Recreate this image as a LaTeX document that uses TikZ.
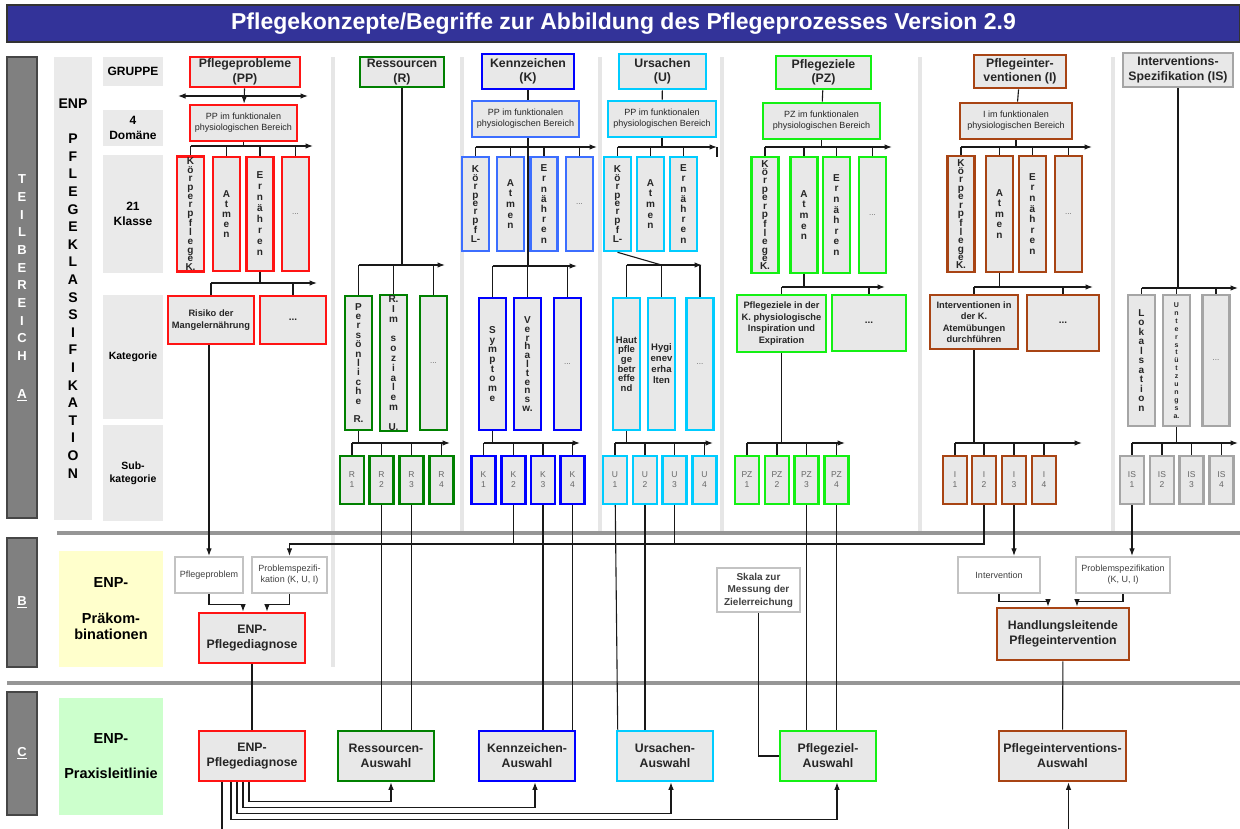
\documentclass[tikz,border=0pt]{standalone}
\usepackage{fontspec}
\setmainfont{Liberation Sans}
\usetikzlibrary{arrows.meta}
\definecolor{boxfill}{RGB}{232,232,232}
\definecolor{ppred}{RGB}{255,20,20}
\definecolor{rgreen}{RGB}{0,128,0}
\definecolor{kblue}{RGB}{0,0,255}
\definecolor{kbluelt}{RGB}{60,110,255}
\definecolor{ucyan}{RGB}{0,204,255}
\definecolor{zgreen}{RGB}{20,240,20}
\definecolor{ibrown}{RGB}{168,68,20}
\definecolor{isgray}{RGB}{165,165,165}
\definecolor{prebox}{RGB}{195,195,195}
\definecolor{lblfill}{RGB}{234,234,234}
\definecolor{secfill}{RGB}{128,128,128}
\definecolor{secline}{RGB}{70,70,70}
\definecolor{sepgray}{RGB}{150,150,150}
\definecolor{colgray}{RGB}{230,230,230}
\definecolor{titleblue}{RGB}{51,51,153}
\definecolor{yellowbg}{RGB}{255,255,204}
\definecolor{greenbg}{RGB}{204,255,204}
% letters stacked one per line
\def\vstx#1{\ifx\relax#1\relax\else\ifx\vsttmp\empty\def\vsttmp{#1}\else\expandafter\def\expandafter\vsttmp\expandafter{\vsttmp\\#1}\fi\expandafter\vstx\fi}
\newcommand\vst[1]{\def\vsttmp{}\vstx#1\relax\vsttmp}

\begin{document}
\begin{tikzpicture}[x=1pt,y=-1pt,>={Latex[length=7.5pt,width=5.5pt]},
  box/.style={draw,line width=2.6pt,fill=boxfill,inner sep=1pt,align=center,text=black!85},
  sz/.style 2 args={minimum width=#1,minimum height=#2},
  hdr/.style={box,font=\fontsize{12.3}{14.5}\bfseries},
  dom/.style={box,font=\fontsize{9}{11}\selectfont},
  vtxt/.style={box,font=\fontsize{10}{#1}\bfseries},
  vtxt/.default=10.6,
  dots/.style={box,font=\fontsize{8}{9}\selectfont,text=black!60},
  catdots/.style={box,font=\fontsize{10}{11}\bfseries},
  cat/.style={box,font=\fontsize{9.3}{11.5}\bfseries},
  sub/.style={box,line width=2.2pt,font=\fontsize{8.5}{10}\selectfont,text=black!60},
  pre/.style={draw=prebox,line width=2.2pt,fill=white,align=center,inner sep=1pt,font=\fontsize{9}{11}\selectfont,text=black!75},
  big/.style={box,font=\fontsize{12.3}{15}\bfseries},
  rowlbl/.style={fill=lblfill,inner sep=1pt,align=center,font=\fontsize{12}{14.5}\bfseries},
  secbar/.style={draw=secline,line width=1.5pt,fill=secfill,text=white,align=center,font=\fontsize{13}{17.7}\bfseries},
  sepline/.style={line width=4.5pt,color=sepgray},
  colsep/.style={line width=4.5pt,color=colgray},
  conn/.style={line width=1.1pt,color=black!90}]
  \useasboundingbox (0,0) rectangle (1240,829);
  % background
  \draw[colsep] (333,57) -- (333,667);
  \foreach \x in {462,600,722,920,1113} \draw[colsep] (\x,57) -- (\x,533);
  \draw[sepline] (57,533) -- (1240,533);
  \draw[sepline] (7,683) -- (1240,683);
  \node[fill=titleblue,draw=black!80,line width=1.5pt,text=white,font=\fontsize{23}{26}\bfseries,sz={1233}{37}] (title) at (623.5,23.5) {Pflegekonzepte/Begriffe zur Abbildung des Pflegeprozesses Version 2.9};

  % left labels
  \node[secbar,sz={30}{461}] (secA) at (22,287.5) {T\\E\\I\\L\\B\\E\\R\\E\\I\\C\\H\\[20pt]\underline{A}};
  \node[secbar,sz={30}{129}] (secB) at (22,602.5) {\underline{B}};
  \node[secbar,sz={30}{123}] (secC) at (22,753.5) {\underline{C}};
  \node[rowlbl,font=\fontsize{14}{17.6}\bfseries,sz={38}{463}] (enp) at (73,288.5) {\vst{{ENP}~PFLEGEKLASSIFIKATION}};
  \node[rowlbl,sz={60}{29}] (lblG) at (133,71.5) {GRUPPE};
  \node[rowlbl,sz={60}{36}] (lblD) at (133,128) {4\\Domäne};
  \node[rowlbl,sz={60}{118}] (lblK) at (133,214) {21\\Klasse};
  \node[rowlbl,font=\fontsize{10.5}{13}\bfseries,sz={60}{124}] (lblKat) at (133,357) {Kategorie};
  \node[rowlbl,font=\fontsize{10.5}{13}\bfseries,sz={60}{96}] (lblSub) at (133,473) {Sub-\\kategorie};
  \node[fill=yellowbg,align=center,font=\fontsize{14.5}{16}\bfseries,sz={104}{116}] (panB) at (111,609) {ENP-\\[20pt]Präkom-\\binationen};
  \node[fill=greenbg,align=center,font=\fontsize{14.5}{16}\bfseries,sz={104}{117}] (panC) at (111,756.5) {ENP-\\[19pt]Praxisleitlinie};

  % Pflegeprobleme
  \node[hdr,draw=ppred,sz={110}{30}] (ppH) at (245,72) {Pflegeprobleme\\(PP)};
  \node[dom,draw=ppred,sz={107}{36}] (ppD) at (243.5,123) {PP im funktionalen\\physiologischen Bereich};
  \coordinate (ppL) at (178,96);
  \coordinate (ppR) at (308,96);
  \coordinate (ppcb) at (313,146);
  \node[vtxt=8.7,draw=ppred,sz={27}{114}] (ppK) at (190.5,214) {\vst{Körperpflege{K.}}};
  \node[vtxt=10,draw=ppred,sz={27}{114}] (ppA) at (226.5,214) {\vst{Atmen}};
  \node[vtxt=11,draw=ppred,sz={27}{114}] (ppE) at (260,214) {\vst{Ernähren}};
  \node[dots,draw=ppred,sz={27}{114}] (ppX) at (295.5,214) {...};
  \coordinate (ppkb) at (317,283);
  \node[cat,draw=ppred,sz={86}{48}] (ppRi) at (211,320) {Risiko der\\Mangelernährung};
  \node[catdots,draw=ppred,sz={66}{48}] (ppCX) at (293,320) {...};

  % Ressourcen
  \node[hdr,draw=rgreen,sz={84}{30}] (rH) at (402,72) {Ressourcen\\(R)};
  \coordinate (rcb) at (445,265);
  \node[vtxt=9.4,draw=rgreen,sz={27}{134}] (rP) at (358.5,363) {\vst{Persönliche~{R.}}};
  \node[vtxt=9.8,draw=rgreen,sz={27}{134}] (rS) at (393.5,363) {\vst{{R.}Im~sozialem~{U.}}};
  \node[dots,draw=rgreen,sz={27}{134}] (rX) at (433.5,363) {...};
  \coordinate (rsb) at (450,443);
  \node[sub,draw=rgreen,sz={24}{48}] (r1) at (352,480) {R\\1};
  \node[sub,draw=rgreen,sz={24}{48}] (r2) at (381.5,480) {R\\2};
  \node[sub,draw=rgreen,sz={24}{48}] (r3) at (411.5,480) {R\\3};
  \node[sub,draw=rgreen,sz={24}{48}] (r4) at (441.5,480) {R\\4};

  % Kennzeichen
  \node[hdr,draw=kblue,sz={92}{35}] (kH) at (528,71.5) {Kennzeichen\\(K)};
  \node[dom,draw=kbluelt,sz={107}{36}] (kD) at (525.5,119) {PP im funktionalen\\physiologischen Bereich};
  \coordinate (kbb) at (597,147);
  \node[vtxt=8.4,draw=kbluelt,sz={27}{94}] (kK) at (475.5,204) {\vst{Körperpf{L-}}};
  \node[vtxt=10.7,draw=kbluelt,sz={27}{94}] (kA) at (510.5,204) {\vst{Atmen}};
  \node[vtxt=10.2,draw=kbluelt,sz={27}{94}] (kE) at (544,204) {\vst{Ernähren}};
  \node[dots,draw=kbluelt,sz={27}{94}] (kX) at (579.5,204) {...};
  \coordinate (kcb) at (577,266);
  \node[vtxt=9.7,draw=kblue,sz={27}{132}] (kSy) at (492.5,364) {\vst{Symptome}};
  \node[vtxt=8.8,draw=kblue,sz={27}{132}] (kVe) at (527.5,364) {\vst{Verhaltens{w.}}};
  \node[dots,draw=kblue,sz={27}{132}] (kX2) at (567.5,364) {...};
  \coordinate (ksb) at (580,443);
  \node[sub,draw=kblue,sz={24}{48}] (k1) at (483.5,480) {K\\1};
  \node[sub,draw=kblue,sz={24}{48}] (k2) at (513.5,480) {K\\2};
  \node[sub,draw=kblue,sz={24}{48}] (k3) at (543,480) {K\\3};
  \node[sub,draw=kblue,sz={24}{48}] (k4) at (572.5,480) {K\\4};

  % Ursachen
  \node[hdr,draw=ucyan,sz={87}{35}] (uH) at (662.5,71.5) {Ursachen\\(U)};
  \node[dom,draw=ucyan,sz={108}{36}] (uD) at (662,119) {PP im funktionalen\\physiologischen Bereich};
  \coordinate (ubb) at (717,147);
  \node[vtxt=8.4,draw=ucyan,sz={27}{94}] (uK) at (617.5,204) {\vst{Körperpf{L-}}};
  \node[vtxt=10.7,draw=ucyan,sz={27}{94}] (uA) at (650.5,204) {\vst{Atmen}};
  \node[vtxt=10.2,draw=ucyan,sz={27}{94}] (uE) at (683.5,204) {\vst{Ernähren}};
  \coordinate (ucb) at (702,265);
  \node[vtxt=9.6,draw=ucyan,sz={27}{132},font=\fontsize{9.5}{9.6}\bfseries] (uHa) at (626.5,364) {Haut\\pfle\\ge\\betr\\effe\\nd};
  \node[vtxt=11,draw=ucyan,sz={27}{132},font=\fontsize{9.5}{11}\bfseries] (uHy) at (661.5,364) {Hygi\\enev\\erha\\lten};
  \node[dots,draw=ucyan,sz={27}{132}] (uX) at (700,364) {...};
  \coordinate (usb) at (713,443);
  \node[sub,draw=ucyan,sz={24}{48}] (u1) at (615,480) {U\\1};
  \node[sub,draw=ucyan,sz={24}{48}] (u2) at (645,480) {U\\2};
  \node[sub,draw=ucyan,sz={24}{48}] (u3) at (674.5,480) {U\\3};
  \node[sub,draw=ucyan,sz={24}{48}] (u4) at (704.5,480) {U\\4};

  % Pflegeziele
  \node[hdr,draw=zgreen,sz={95}{33}] (zH) at (823.5,72.5) {Pflegeziele\\(PZ)};
  \node[dom,draw=zgreen,sz={117}{36}] (zD) at (821.5,121) {PZ im funktionalen\\physiologischen Bereich};
  \coordinate (zbb) at (892,147);
  \node[vtxt=8.4,draw=zgreen,sz={27}{116}] (zK) at (765,215) {\vst{Körperpflege{K.}}};
  \node[vtxt=10.6,draw=zgreen,sz={27}{116}] (zA) at (804,215) {\vst{Atmen}};
  \node[vtxt=10.6,draw=zgreen,sz={27}{116}] (zE) at (836.5,215) {\vst{Ernähren}};
  \node[dots,draw=zgreen,sz={27}{116}] (zX) at (872.5,215) {...};
  \coordinate (zcb) at (885,287);
  \node[cat,draw=zgreen,sz={89}{57}] (zPf) at (781.5,323.5) {Pflegeziele in der\\K. physiologische\\Inspiration und\\Expiration};
  \node[catdots,draw=zgreen,sz={74}{56}] (zX2) at (869,323) {...};
  \coordinate (zsb) at (845,443);
  \node[sub,draw=zgreen,sz={24}{48}] (z1) at (747,480) {PZ\\1};
  \node[sub,draw=zgreen,sz={24}{48}] (z2) at (777,480) {PZ\\2};
  \node[sub,draw=zgreen,sz={24}{48}] (z3) at (806.5,480) {PZ\\3};
  \node[sub,draw=zgreen,sz={24}{48}] (z4) at (836.5,480) {PZ\\4};

  % Pflegeinterventionen
  \node[hdr,draw=ibrown,sz={92}{33}] (iH) at (1020,71.5) {Pflegeinter-\\ventionen (I)};
  \node[dom,draw=ibrown,sz={112}{36}] (iD) at (1016,121) {I im funktionalen\\physiologischen Bereich};
  \coordinate (ibb) at (1092,147);
  \node[vtxt=8.4,draw=ibrown,sz={27}{116}] (iK) at (961,214) {\vst{Körperpflege{K.}}};
  \node[vtxt=10.5,draw=ibrown,sz={27}{116}] (iA) at (999.5,214) {\vst{Atmen}};
  \node[vtxt=10.6,draw=ibrown,sz={27}{116}] (iE) at (1032.5,214) {\vst{Ernähren}};
  \node[dots,draw=ibrown,sz={27}{116}] (iX) at (1068.5,214) {...};
  \coordinate (icb) at (1093,287);
  \node[cat,draw=ibrown,sz={88}{54}] (iIn) at (974,322) {Interventionen in\\der K.\\Atemübungen\\durchführen};
  \node[catdots,draw=ibrown,sz={72}{56}] (iX2) at (1063,323) {...};
  \coordinate (isb) at (1082,443);
  \node[sub,draw=ibrown,sz={24}{48}] (i1) at (955,480) {I\\1};
  \node[sub,draw=ibrown,sz={24}{48}] (i2) at (984,480) {I\\2};
  \node[sub,draw=ibrown,sz={24}{48}] (i3) at (1014,480) {I\\3};
  \node[sub,draw=ibrown,sz={24}{48}] (i4) at (1044,480) {I\\4};

  % Interventions-Spezifikation
  \node[hdr,draw=isgray,sz={110}{34}] (sH) at (1178,70) {Interventions-\\Spezifikation (IS)};
  \coordinate (scb) at (1238,288);
  \node[vtxt=9.5,draw=isgray,sz={27}{131}] (sLo) at (1141.5,360.5) {\vst{Lokalsation}};
  \node[vtxt,draw=isgray,sz={27}{131},font=\fontsize{7}{7.9}\bfseries] (sUn) at (1176.5,360.5) {\vst{Unterstützungs{a.}}};
  \node[dots,draw=isgray,sz={27}{131}] (sX) at (1216,360.5) {...};
  \coordinate (ssb) at (1238,443);
  \node[sub,draw=isgray,sz={24}{48}] (s1) at (1132,480) {IS\\1};
  \node[sub,draw=isgray,sz={24}{48}] (s2) at (1162,480) {IS\\2};
  \node[sub,draw=isgray,sz={24}{48}] (s3) at (1191.5,480) {IS\\3};
  \node[sub,draw=isgray,sz={24}{48}] (s4) at (1221.5,480) {IS\\4};

  % B: Praekombinationen
  \coordinate (bb) at (0,544);
  \node[pre,sz={68}{36}] (bPP) at (209,575) {Pflegeproblem};
  \node[pre,sz={75}{36}] (bPS) at (289.5,575) {Problemspezifi-\\kation (K, U, I)};
  \node[big,draw=ppred,sz={106}{50}] (bDx) at (252,638) {ENP-\\Pflegediagnose};
  \node[pre,font=\fontsize{10}{12.5}\bfseries,sz={83}{44}] (bSk) at (758.5,590) {Skala zur\\Messung der\\Zielerreichung};
  \node[pre,sz={82}{36}] (bIn) at (999,575) {Intervention};
  \node[pre,sz={94}{36}] (bPS2) at (1123,575) {Problemspezifikation\\(K, U, I)};
  \node[big,draw=ibrown,sz={132}{52}] (bHl) at (1063,634) {Handlungsleitende\\Pflegeintervention};

  % C: Praxisleitlinie
  \node[big,draw=ppred,sz={106}{50}] (cDx) at (252,756) {ENP-\\Pflegediagnose};
  \node[big,draw=rgreen,sz={96}{50}] (cR) at (386,756) {Ressourcen-\\Auswahl};
  \node[big,draw=kblue,sz={96}{50}] (cK) at (527,756) {Kennzeichen-\\Auswahl};
  \node[big,draw=ucyan,sz={96}{50}] (cU) at (665,756) {Ursachen-\\Auswahl};
  \node[big,draw=zgreen,sz={96}{50}] (cZ) at (828,756) {Pflegeziel-\\Auswahl};
  \node[big,draw=ibrown,sz={127}{50}] (cI) at (1062.5,756) {Pflegeinterventions-\\Auswahl};

  % connectors, section A
  \draw[conn,<->] (ppL) -- (ppR);
  \draw[conn,->] (ppH) -- (ppD);
  \draw[conn] (ppD) -- (ppD |- ppcb);
  \draw[conn,->] (ppK |- ppcb) -- (ppcb);
  \foreach \n in {ppK,ppA,ppE,ppX} \draw[conn] (\n) -- (\n |- ppcb);
  \draw[conn] (ppE) -- (ppE |- ppkb);
  \draw[conn,->] (ppRi |- ppkb) -- (ppkb);
  \foreach \n in {ppRi,ppCX} \draw[conn] (\n) -- (\n |- ppkb);

  \draw[conn] (rH) -- (rH |- rcb);
  \draw[conn,->] (rP |- rcb) -- (rcb);
  \foreach \n in {rP,rS,rX} \draw[conn] (\n) -- (\n |- rcb);
  \draw[conn] (rP) -- (rP |- rsb);
  \draw[conn,->] (r1 |- rsb) -- (rsb);
  \foreach \n in {r1,r2,r3,r4} \draw[conn] (\n) -- (\n |- rsb);

  \draw[conn] (kH) -- (kH |- kD.north);
  \draw[conn] (kD.south -| kH) -- (kH |- kcb);
  \draw[conn,->] (kK |- kbb) -- (kbb);
  \foreach \n in {kK,kA,kE,kX} \draw[conn] (\n) -- (\n |- kbb);
  \draw[conn,->] (kSy |- kcb) -- (kcb);
  \foreach \n in {kSy,kVe,kX2} \draw[conn] (\n) -- (\n |- kcb);
  \draw[conn] (kSy) -- (kSy |- ksb);
  \draw[conn,->] (k1 |- ksb) -- (ksb);
  \foreach \n in {k1,k2,k3,k4} \draw[conn] (\n) -- (\n |- ksb);

  \draw[conn] (uH) -- (uD);
  \draw[conn] (uD) -- (uD |- ubb);
  \draw[conn,->] (uK |- ubb) -- (ubb);
  \draw[conn] (ubb) -- ++(0,10);
  \foreach \n in {uK,uA,uE} \draw[conn] (\n) -- (\n |- ubb);
  \draw[conn] (uK.south) -- (uHy |- ucb);
  \draw[conn,->] (uHa |- ucb) -- (ucb);
  \foreach \n in {uHa,uHy,uX} \draw[conn] (\n) -- (\n |- ucb);
  \draw[conn] (uHa) -- (uHa |- usb);
  \draw[conn,->] (u1 |- usb) -- (usb);
  \foreach \n in {u1,u2,u3,u4} \draw[conn] (\n) -- (\n |- usb);

  \draw[conn] (zH) -- (zD);
  \draw[conn] (zD) -- (zD |- zbb);
  \draw[conn,->] (zK |- zbb) -- (zbb);
  \foreach \n in {zK,zA,zE,zX} \draw[conn] (\n) -- (\n |- zbb);
  \draw[conn] (zA) -- (zA |- zcb);
  \draw[conn,->] (zPf |- zcb) -- (zcb);
  \foreach \n in {zPf,zX2} \draw[conn] (\n) -- (\n |- zcb);
  \draw[conn] (zPf) -- (zPf |- zsb);
  \draw[conn,->] (z1 |- zsb) -- (zsb);
  \foreach \n in {z1,z2,z3,z4} \draw[conn] (\n) -- (\n |- zsb);

  \draw[conn] (iH) -- (iD);
  \draw[conn] (iD) -- (iD |- ibb);
  \draw[conn,->] (iK |- ibb) -- (ibb);
  \foreach \n in {iK,iA,iE,iX} \draw[conn] (\n) -- (\n |- ibb);
  \draw[conn] (iA) -- (iA |- icb);
  \draw[conn,->] (iIn |- icb) -- (icb);
  \foreach \n in {iIn,iX2} \draw[conn] (\n) -- (\n |- icb);
  \draw[conn] (iIn) -- (iIn |- isb);
  \draw[conn,->] (i1 |- isb) -- (isb);
  \foreach \n in {i1,i2,i3,i4} \draw[conn] (\n) -- (\n |- isb);

  \draw[conn] (sH) -- (sH |- scb);
  \draw[conn,->] (sLo |- scb) -- (scb);
  \foreach \n in {sLo,sUn,sX} \draw[conn] (\n) -- (\n |- scb);
  \draw[conn] (sUn) -- (sUn |- ssb);
  \draw[conn,->] (s1 |- ssb) -- (ssb);
  \foreach \n in {s1,s2,s3,s4} \draw[conn] (\n) -- (\n |- ssb);

  % connectors, sections B and C
  \draw[conn,->] (ppRi.south -| bPP) -- (bPP.north);
  \draw[conn,->] (i2) |- (bPS |- bb) -- (bPS.north);
  \draw[conn] (k2) -- (k2 |- bb);
  \draw[conn] (u3) -- (u3 |- bb);
  \draw[conn,->] (i3) -- (i3 |- bIn.north);
  \draw[conn,->] (s1) -- (s1 |- bPS2.north);
  \draw[conn,->] (bPP.south) -- ++(0,10) -| ([xshift=-9pt]bDx.north);
  \draw[conn,->] (bPS.south) -- ++(0,10) -| ([xshift=15pt]bDx.north);
  \draw[conn,->] (bIn.south) -- ++(0,7) -| ([xshift=-15pt]bHl.north);
  \draw[conn,->] (bPS2.south) -- ++(0,7) -| ([xshift=14pt]bHl.north);
  \draw[conn] (bDx) -- (cDx);
  \draw[conn] (bHl) -- (cI);
  \draw[conn] (bSk) |- (cZ.west);
  \draw[conn] (r2) -- (r2 |- cR.north);
  \draw[conn] (r3) -- (r3 |- cR.north);
  \draw[conn] (k3) -- (k3 |- cK.north);
  \draw[conn] (k4) -- (k4 |- cK.north);
  \draw[conn] (u1) -- ([xshift=2pt]cU.north west);
  \draw[conn] (u2) -- (u2 |- cU.north);
  \draw[conn] (z3) -- (z3 |- cZ.north);
  \draw[conn] (z4) -- (z4 |- cZ.north);
  \draw[conn] ([xshift=-30pt]cDx.south) -- ++(0,50);
  \draw[conn,->] ([xshift=-21pt]cDx.south) -- ++(0,37) -| ([xshift=9pt]cZ.south);
  \draw[conn,->] ([xshift=-15pt]cDx.south) -- ++(0,31) -| ([xshift=6pt]cU.south);
  \draw[conn,->] ([xshift=-9pt]cDx.south) -- ++(0,25) -| ([xshift=8pt]cK.south);
  \draw[conn,->] ([xshift=-3pt]cDx.south) -- ++(0,19) -| ([xshift=5pt]cR.south);
  \draw[conn,<-] ([xshift=6pt]cI.south) -- ++(0,50);
\end{tikzpicture}
\end{document}
